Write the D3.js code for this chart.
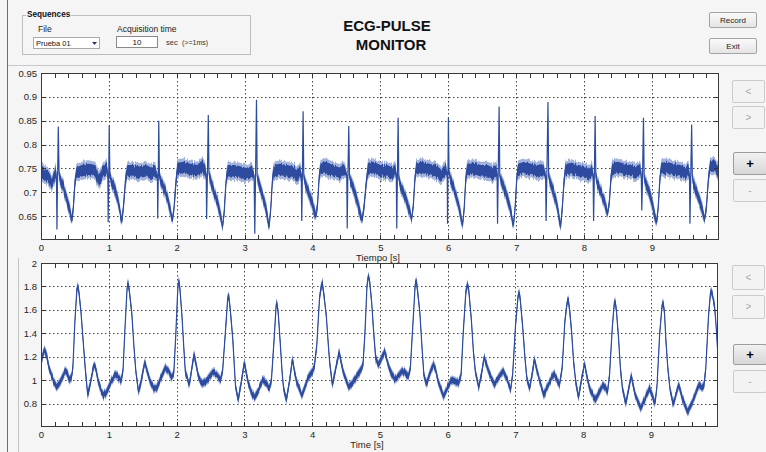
<!DOCTYPE html>
<html><head><meta charset="utf-8">
<script src="https://cdn.jsdelivr.net/npm/d3@7"></script>
<style>
body{margin:0;background:#f4f5f4;}
svg{display:block;font-family:"Liberation Sans",Arial,sans-serif;}
</style></head><body>
<svg id="c" width="766" height="452"></svg>
<script>
// ---------- data ----------
const xTickValues = [0,1,2,3,4,5,6,7,8,9];
const xTickLabels = ["0","1","2","3","4","5","6","7","8","9"];
const ecgYTicks = [0.65,0.7,0.75,0.8,0.85,0.9,0.95];
const ecgYTickLabels = ["0.65","0.7","0.75","0.8","0.85","0.9","0.95"];
const pulseYTicks = [0.8,1,1.2,1.4,1.6,1.8,2];
const pulseYTickLabels = ["0.8","1","1.2","1.4","1.6","1.8","2"];

// ECG samples: [time s, value, noise spread]
const ecgSamples = [
[0.00,0.745,.012],[0.04,0.74,.012],[0.08,0.735,.012],[0.12,0.73,.012],[0.16,0.715,.01],[0.19,0.73,.012],[0.215,0.745,.012],
[0.228,0.73,.006],[0.235,0.622,0],[0.243,0.72,.003],[0.255,0.838,0],[0.266,0.74,.004],[0.28,0.725,.01],[0.33,0.71,.01],[0.38,0.685,.01],[0.43,0.66,.01],[0.455,0.64,.006],[0.475,0.665,.008],[0.50,0.72,.01],[0.52,0.74,.012],
[0.6,0.745,.012],[0.7,0.748,.012],[0.8,0.745,.012],[0.85,0.725,.012],[0.92,0.745,.012],[0.97,0.75,.012],
[0.985,0.735,.005],[0.99,0.637,0],[0.997,0.72,.003],[1.005,0.84,0],[1.015,0.735,.004],[1.03,0.725,.01],[1.08,0.71,.01],[1.13,0.685,.01],[1.17,0.655,.01],[1.19,0.637,.006],[1.215,0.67,.008],[1.245,0.725,.01],[1.27,0.745,.012],
[1.35,0.745,.012],[1.45,0.742,.012],[1.55,0.745,.012],[1.62,0.74,.012],[1.68,0.745,.012],
[1.715,0.735,.005],[1.72,0.645,0],[1.727,0.72,.003],[1.735,0.85,0],[1.745,0.735,.004],[1.76,0.725,.01],[1.81,0.71,.01],[1.86,0.69,.01],[1.9,0.665,.01],[1.935,0.64,.006],[1.96,0.665,.008],[1.99,0.725,.01],[2.01,0.75,.012],
[2.1,0.752,.012],[2.2,0.748,.012],[2.3,0.745,.012],[2.38,0.755,.012],[2.42,0.745,.012],
[2.435,0.735,.005],[2.44,0.644,0],[2.45,0.72,.003],[2.465,0.862,0],[2.475,0.74,.004],[2.49,0.73,.01],[2.54,0.705,.01],[2.6,0.68,.01],[2.64,0.655,.01],[2.675,0.628,.006],[2.7,0.66,.008],[2.725,0.72,.01],[2.75,0.745,.012],
[2.85,0.745,.012],[2.95,0.742,.012],[3.05,0.738,.012],[3.11,0.745,.012],
[3.14,0.735,.005],[3.15,0.613,0],[3.16,0.72,.003],[3.175,0.894,0],[3.185,0.735,.004],[3.2,0.725,.01],[3.25,0.7,.01],[3.3,0.675,.01],[3.335,0.65,.01],[3.36,0.627,.006],[3.385,0.665,.008],[3.41,0.725,.01],[3.43,0.745,.012],
[3.52,0.748,.012],[3.62,0.745,.012],[3.72,0.742,.012],[3.78,0.735,.012],[3.82,0.745,.012],
[3.835,0.735,.005],[3.842,0.64,0],[3.85,0.72,.003],[3.862,0.87,0],[3.872,0.735,.004],[3.89,0.72,.01],[3.94,0.7,.01],[3.99,0.68,.01],[4.03,0.66,.01],[4.05,0.648,.006],[4.075,0.675,.008],[4.1,0.735,.01],[4.12,0.75,.012],
[4.2,0.752,.012],[4.3,0.745,.012],[4.4,0.74,.012],[4.47,0.748,.012],
[4.505,0.735,.005],[4.512,0.624,0],[4.52,0.72,.003],[4.535,0.839,0],[4.545,0.735,.004],[4.56,0.725,.01],[4.61,0.705,.01],[4.66,0.68,.01],[4.7,0.66,.01],[4.73,0.64,.006],[4.76,0.67,.008],[4.8,0.73,.01],[4.82,0.75,.012],
[4.9,0.752,.012],[5.0,0.745,.012],[5.1,0.745,.012],[5.18,0.74,.012],[5.22,0.748,.012],
[5.235,0.735,.005],[5.242,0.624,0],[5.25,0.72,.003],[5.262,0.856,0],[5.272,0.73,.004],[5.29,0.715,.01],[5.34,0.7,.01],[5.39,0.68,.01],[5.43,0.66,.01],[5.46,0.644,.006],[5.485,0.67,.008],[5.51,0.73,.01],[5.53,0.75,.012],
[5.62,0.752,.012],[5.72,0.748,.012],[5.82,0.745,.012],[5.9,0.735,.012],[5.96,0.748,.012],
[5.985,0.74,.005],[5.99,0.634,0],[5.995,0.72,.003],[6.003,0.856,0],[6.012,0.74,.004],[6.03,0.73,.01],[6.08,0.71,.01],[6.13,0.685,.01],[6.18,0.655,.01],[6.21,0.63,.006],[6.235,0.665,.008],[6.26,0.73,.01],[6.28,0.748,.012],
[6.38,0.75,.012],[6.48,0.745,.012],[6.58,0.745,.012],[6.66,0.74,.012],[6.71,0.748,.012],
[6.72,0.735,.005],[6.727,0.634,0],[6.735,0.72,.003],[6.75,0.88,0],[6.76,0.735,.004],[6.78,0.725,.01],[6.83,0.705,.01],[6.88,0.685,.01],[6.93,0.655,.01],[6.96,0.63,.006],[6.985,0.665,.008],[7.01,0.73,.01],[7.03,0.748,.012],
[7.12,0.752,.012],[7.22,0.748,.012],[7.32,0.745,.012],[7.4,0.748,.012],
[7.435,0.735,.005],[7.442,0.64,0],[7.452,0.72,.003],[7.47,0.889,0],[7.48,0.735,.004],[7.5,0.72,.01],[7.55,0.7,.01],[7.6,0.675,.01],[7.63,0.65,.01],[7.655,0.627,.006],[7.68,0.665,.008],[7.71,0.73,.01],[7.73,0.748,.012],
[7.82,0.75,.012],[7.92,0.745,.012],[8.02,0.742,.012],[8.09,0.738,.012],[8.12,0.748,.012],
[8.135,0.735,.005],[8.142,0.64,0],[8.152,0.72,.003],[8.165,0.86,0],[8.175,0.735,.004],[8.19,0.72,.01],[8.24,0.705,.01],[8.29,0.685,.01],[8.33,0.665,.01],[8.35,0.655,.006],[8.375,0.68,.008],[8.4,0.735,.01],[8.42,0.75,.012],
[8.5,0.752,.012],[8.6,0.748,.012],[8.7,0.745,.012],[8.78,0.742,.012],[8.83,0.748,.012],
[8.845,0.735,.005],[8.852,0.662,0],[8.862,0.72,.003],[8.877,0.856,0],[8.887,0.735,.004],[8.9,0.72,.01],[8.95,0.705,.01],[9.0,0.68,.01],[9.04,0.655,.01],[9.07,0.637,.006],[9.095,0.67,.008],[9.12,0.73,.01],[9.14,0.75,.012],
[9.22,0.752,.012],[9.32,0.748,.012],[9.42,0.745,.012],[9.5,0.74,.012],[9.54,0.748,.012],
[9.555,0.735,.005],[9.562,0.634,0],[9.572,0.72,.003],[9.587,0.842,0],[9.597,0.735,.004],[9.61,0.72,.01],[9.66,0.7,.01],[9.71,0.68,.01],[9.75,0.66,.01],[9.78,0.644,.006],[9.805,0.67,.008],[9.835,0.73,.01],[9.86,0.755,.012],
[9.93,0.755,.012],[9.985,0.74,.012]
];

// Pulse samples: [time s, value]
const pulseSamples = [
[0.00,1.12],[0.02,1.2],[0.05,1.26],[0.08,1.22],[0.12,1.1],[0.18,1.0],[0.23,0.94],[0.28,0.98],[0.33,1.04],[0.36,1.08],[0.39,1.06],[0.42,1.0],[0.45,1.03],[0.47,1.1],[0.5,1.5],[0.53,1.78],[0.545,1.8],[0.56,1.75],[0.59,1.58],[0.62,1.35],[0.65,1.12],[0.69,0.87],[0.72,0.95],[0.78,1.13],[0.81,1.1],[0.84,1.0],[0.88,0.92],[0.92,0.87],[0.97,0.9],[1.03,0.98],[1.10,1.05],[1.15,1.02],[1.18,0.99],[1.21,1.08],[1.24,1.45],[1.27,1.78],[1.285,1.83],[1.30,1.78],[1.34,1.57],[1.37,1.3],[1.40,1.07],[1.44,0.9],[1.48,1.0],[1.53,1.15],[1.57,1.07],[1.61,0.99],[1.66,0.93],[1.71,0.93],[1.77,1.02],[1.83,1.1],[1.88,1.08],[1.93,1.02],[1.96,1.06],[1.99,1.4],[2.02,1.8],[2.035,1.85],[2.05,1.78],[2.08,1.55],[2.11,1.25],[2.13,1.07],[2.19,0.96],[2.22,1.08],[2.26,1.22],[2.30,1.1],[2.33,1.01],[2.38,0.97],[2.45,1.0],[2.54,1.07],[2.6,1.04],[2.65,1.0],[2.68,1.08],[2.72,1.4],[2.755,1.7],[2.77,1.72],[2.79,1.62],[2.83,1.35],[2.87,0.95],[2.91,0.83],[2.96,1.0],[3.0,1.15],[3.05,1.0],[3.1,0.9],[3.15,0.85],[3.2,0.9],[3.28,1.01],[3.33,0.97],[3.37,0.93],[3.40,1.0],[3.44,1.35],[3.47,1.64],[3.48,1.66],[3.50,1.58],[3.53,1.32],[3.56,1.05],[3.58,0.93],[3.62,0.83],[3.67,1.0],[3.71,1.18],[3.74,1.08],[3.77,0.99],[3.85,0.87],[3.9,0.95],[3.95,1.03],[4.0,1.07],[4.03,1.1],[4.07,1.3],[4.11,1.7],[4.14,1.82],[4.15,1.83],[4.17,1.75],[4.21,1.55],[4.24,1.3],[4.26,1.15],[4.30,0.96],[4.35,1.1],[4.40,1.24],[4.43,1.15],[4.46,1.07],[4.54,0.94],[4.62,1.0],[4.71,1.08],[4.75,1.12],[4.78,1.4],[4.81,1.8],[4.83,1.89],[4.85,1.84],[4.88,1.66],[4.91,1.4],[4.94,1.18],[4.98,1.13],[5.02,1.18],[5.07,1.25],[5.1,1.18],[5.14,1.1],[5.22,1.0],[5.28,1.04],[5.33,1.08],[5.38,1.06],[5.42,1.03],[5.45,1.1],[5.48,1.4],[5.52,1.8],[5.535,1.86],[5.55,1.8],[5.59,1.58],[5.62,1.3],[5.65,1.04],[5.69,0.97],[5.74,1.06],[5.79,1.14],[5.83,1.07],[5.86,0.99],[5.94,0.86],[6.0,0.94],[6.06,1.0],[6.11,0.99],[6.16,0.97],[6.2,1.05],[6.23,1.4],[6.27,1.76],[6.295,1.82],[6.31,1.78],[6.35,1.52],[6.38,1.25],[6.41,1.07],[6.46,0.94],[6.5,1.05],[6.54,1.2],[6.58,1.12],[6.61,1.07],[6.69,0.96],[6.75,1.02],[6.82,1.08],[6.88,1.0],[6.93,0.92],[6.96,1.05],[7.0,1.45],[7.04,1.72],[7.055,1.75],[7.07,1.7],[7.11,1.44],[7.14,1.2],[7.17,1.01],[7.21,0.93],[7.25,1.06],[7.28,1.18],[7.32,1.08],[7.36,0.99],[7.42,0.87],[7.5,0.98],[7.57,1.06],[7.62,1.0],[7.65,0.96],[7.69,1.1],[7.73,1.5],[7.765,1.67],[7.78,1.69],[7.80,1.6],[7.83,1.41],[7.86,1.15],[7.89,0.99],[7.93,0.85],[7.98,1.02],[8.02,1.14],[8.06,1.02],[8.10,0.92],[8.18,0.83],[8.24,0.9],[8.29,0.96],[8.33,0.93],[8.36,0.9],[8.39,1.05],[8.43,1.45],[8.46,1.66],[8.47,1.68],[8.49,1.6],[8.52,1.38],[8.55,1.1],[8.58,0.93],[8.63,0.8],[8.67,0.92],[8.71,1.04],[8.74,0.95],[8.77,0.87],[8.85,0.76],[8.92,0.85],[8.98,0.93],[9.02,0.87],[9.06,0.8],[9.09,0.95],[9.13,1.4],[9.165,1.64],[9.18,1.66],[9.20,1.58],[9.22,1.35],[9.25,1.1],[9.28,0.93],[9.33,0.79],[9.37,0.88],[9.41,0.96],[9.44,0.9],[9.46,0.85],[9.54,0.73],[9.62,0.82],[9.68,0.92],[9.71,0.96],[9.75,0.94],[9.78,0.94],[9.81,1.1],[9.85,1.55],[9.88,1.75],[9.89,1.76],[9.91,1.72],[9.94,1.63],[9.97,1.4],[9.99,1.2]
];
const pulseSpread = 0.026;

// ---------- drawing ----------
const svg = d3.select("#c");
const DARK = "#2d4c9f", LIGHT = "#a3b3db";

const defs = svg.append("defs");
const g1 = defs.append("linearGradient").attr("id","btn").attr("x1",0).attr("y1",0).attr("x2",0).attr("y2",1);
g1.append("stop").attr("offset","0%").attr("stop-color","#fafafa");
g1.append("stop").attr("offset","100%").attr("stop-color","#e4e4e4");
const g2 = defs.append("linearGradient").attr("id","btnOn").attr("x1",0).attr("y1",0).attr("x2",0).attr("y2",1);
g2.append("stop").attr("offset","0%").attr("stop-color","#f2f2f2");
g2.append("stop").attr("offset","100%").attr("stop-color","#d6d6d6");

// rough-edge filter (vertical jitter of the noise band edges)
function roughFilter(id, scale, seed){
  const f = defs.append("filter").attr("id",id).attr("x","-2%").attr("y","-10%").attr("width","104%").attr("height","120%");
  f.append("feTurbulence").attr("type","fractalNoise").attr("baseFrequency","0.9 0.03").attr("numOctaves",1).attr("seed",seed).attr("result","t");
  f.append("feColorMatrix").attr("in","t").attr("type","matrix")
    .attr("values","0 0 0 0 0.5  0 1 0 0 0  0 0 0 0 0  0 0 0 0 1").attr("result","m");
  f.append("feDisplacementMap").attr("in","SourceGraphic").attr("in2","m").attr("scale",scale)
    .attr("xChannelSelector","R").attr("yChannelSelector","G");
}
roughFilter("rough1",7,4);
roughFilter("rough2",4,9);

// frame lines
svg.append("line").attr("x1",7.5).attr("x2",7.5).attr("y1",0).attr("y2",452).attr("stroke","#6e6e6e");
svg.append("line").attr("x1",8).attr("x2",766).attr("y1",65.5).attr("y2",65.5).attr("stroke","#c8c8c8");
svg.append("line").attr("x1",18.5).attr("x2",18.5).attr("y1",258).attr("y2",452).attr("stroke","#c4c4c4");

// Sequences panel
svg.append("rect").attr("x",22.5).attr("y",15.5).attr("width",228).attr("height",39).attr("fill","none").attr("stroke","#bdbdbd");
svg.append("rect").attr("x",26).attr("y",8).attr("width",45).attr("height",12).attr("fill","#f4f5f4");
svg.append("text").attr("x",27).attr("y",16.5).attr("font-size",8.2).attr("font-weight","bold").attr("fill","#111").text("Sequences");
svg.append("text").attr("x",38).attr("y",32).attr("font-size",8.5).attr("fill","#222").text("File");
svg.append("rect").attr("x",33.5).attr("y",37.5).attr("width",66).attr("height",11).attr("fill","#fff").attr("stroke","#a9a9a9");
svg.append("text").attr("x",36).attr("y",46).attr("font-size",7.5).attr("fill","#111").text("Prueba 01");
svg.append("path").attr("d","M92,42 L97,42 L94.5,45 Z").attr("fill","#333366");
svg.append("text").attr("x",117).attr("y",32).attr("font-size",8.5).attr("fill","#222").text("Acquisition time");
svg.append("rect").attr("x",116.5).attr("y",36.5).attr("width",41).attr("height",11).attr("fill","#fff").attr("stroke","#8a8a8a");
svg.append("text").attr("x",137).attr("y",45).attr("text-anchor","middle").attr("font-size",8).attr("fill","#111").text("10");
svg.append("text").attr("x",166).attr("y",45).attr("font-size",7.5).attr("fill","#333").text("sec");
svg.append("text").attr("x",182).attr("y",45).attr("font-size",7).attr("fill","#333").text("(>=1ms)");

// title
svg.append("text").attr("x",387).attr("y",31).attr("text-anchor","middle").attr("font-size",15).attr("font-weight","bold").attr("fill","#111").text("ECG-PULSE");
svg.append("text").attr("x",391).attr("y",50).attr("text-anchor","middle").attr("font-size",15).attr("font-weight","bold").attr("fill","#111").text("MONITOR");

function button(x,y,w,h,label,opts){
  opts = opts||{};
  svg.append("rect").attr("x",x+0.5).attr("y",y+0.5).attr("width",w).attr("height",h).attr("rx",1.5)
    .attr("fill",opts.fill||"url(#btn)").attr("stroke",opts.stroke||"#a4a4a4");
  svg.append("text").attr("x",x+w/2+0.5).attr("y",y+h/2+(opts.dy||3.2)).attr("text-anchor","middle")
    .attr("font-size",opts.size||8).attr("font-weight",opts.bold?"bold":"normal").attr("fill",opts.color||"#222").text(label);
}
button(709,12,47,15,"Record");
button(709,38,47,15,"Exit");

const off = {fill:"#f3f3f3",stroke:"#cbcbcb",color:"#a8a8a8",size:10,dy:3.5};
button(732,80,32,22,"<",off);
button(732,106,32,22,">",off);
button(733,152,33,22,"+",{fill:"url(#btnOn)",stroke:"#9c9c9c",color:"#000",size:13,bold:true,dy:4.5});
button(733,179,33,22,"-",off);
button(732,265,32,24,"<",off);
button(732,295,32,23,">",off);
button(733,344,33,20,"+",{fill:"url(#btnOn)",stroke:"#9c9c9c",color:"#000",size:13,bold:true,dy:4.5});
button(733,370,33,22,"-",off);

// clipped y-label fragment of the lower axes
defs.append("clipPath").attr("id","ylabClip").append("rect").attr("x",18).attr("y",300).attr("width",5).attr("height",80);
svg.append("text").attr("clip-path","url(#ylabClip)").attr("transform","translate(21,337) rotate(-90)")
  .attr("text-anchor","middle").attr("font-size",9.5).attr("fill","#555").text("Pulso [V]");

function drawPlot(cfg){
  const x = d3.scaleLinear().domain([0,9.99]).range([cfg.left,cfg.right]);
  const y = d3.scaleLinear().domain(cfg.yDomain).range([cfg.bottom,cfg.top]);
  const g = svg.append("g");
  g.append("rect").attr("x",cfg.left).attr("y",cfg.top).attr("width",cfg.right-cfg.left).attr("height",cfg.bottom-cfg.top).attr("fill","#fff");
  g.selectAll(".gx").data(xTickValues.filter(v=>v>0)).enter().append("line")
    .attr("x1",d=>Math.round(x(d))+0.5).attr("x2",d=>Math.round(x(d))+0.5).attr("y1",cfg.top).attr("y2",cfg.bottom)
    .attr("stroke","#333").attr("stroke-dasharray","1.5,2.5").attr("stroke-width",0.9);
  g.selectAll(".gy").data(cfg.yTicks.filter(v=>v<cfg.yDomain[1])).enter().append("line")
    .attr("y1",d=>Math.round(y(d))+0.5).attr("y2",d=>Math.round(y(d))+0.5).attr("x1",cfg.left).attr("x2",cfg.right)
    .attr("stroke","#333").attr("stroke-dasharray","1.5,2.5").attr("stroke-width",0.9);
  const cid = "clip"+cfg.id;
  defs.append("clipPath").attr("id",cid).append("rect").attr("x",cfg.left).attr("y",cfg.top).attr("width",cfg.right-cfg.left).attr("height",cfg.bottom-cfg.top);
  const pg = g.append("g").attr("clip-path",`url(#${cid})`);
  const sp = cfg.spread;
  const areaOuter = d3.area().x(d=>x(d[0])).y0(d=>y(d[1]-sp(d)*1.6)).y1(d=>y(d[1]+sp(d)*1.6));
  const areaInner = d3.area().x(d=>x(d[0])).y0(d=>y(d[1]-sp(d))).y1(d=>y(d[1]+sp(d)));
  const line = d3.line().x(d=>x(d[0])).y(d=>y(d[1]));
  const band = pg.append("g").attr("filter",`url(#${cfg.filter})`);
  band.append("path").attr("d",areaOuter(cfg.data)).attr("fill",LIGHT);
  band.append("path").attr("d",areaInner(cfg.data)).attr("fill",DARK);
  pg.append("path").attr("d",line(cfg.data)).attr("fill","none").attr("stroke",DARK).attr("stroke-width",1.2);
  const minor = d3.range(0,50).map(i=>i*0.2).filter(v=>Math.abs(v-Math.round(v))>0.01);
  const allX = xTickValues.concat(minor).filter(v=>v>0);
  g.selectAll(".tb").data(allX).enter().append("line")
    .attr("x1",d=>Math.round(x(d))+0.5).attr("x2",d=>Math.round(x(d))+0.5).attr("y1",cfg.bottom).attr("y2",cfg.bottom-5).attr("stroke","#333");
  g.selectAll(".tt").data(allX).enter().append("line")
    .attr("x1",d=>Math.round(x(d))+0.5).attr("x2",d=>Math.round(x(d))+0.5).attr("y1",cfg.top).attr("y2",cfg.top+5).attr("stroke","#333");
  g.selectAll(".tl").data(cfg.yTicks).enter().append("line")
    .attr("y1",d=>Math.round(y(d))+0.5).attr("y2",d=>Math.round(y(d))+0.5).attr("x1",cfg.left).attr("x2",cfg.left+5).attr("stroke","#333");
  g.selectAll(".tr").data(cfg.yTicks).enter().append("line")
    .attr("y1",d=>Math.round(y(d))+0.5).attr("y2",d=>Math.round(y(d))+0.5).attr("x1",cfg.right).attr("x2",cfg.right-5).attr("stroke","#333");
  g.append("rect").attr("x",cfg.left+0.5).attr("y",cfg.top+0.5).attr("width",cfg.right-cfg.left-1).attr("height",cfg.bottom-cfg.top-1)
    .attr("fill","none").attr("stroke","#3a3a3a");
  const ax = d3.axisBottom(x).tickValues(xTickValues).tickFormat((d,i)=>xTickLabels[i]).tickSize(0).tickPadding(cfg.xPad);
  const axg = g.append("g").attr("transform",`translate(0,${cfg.bottom})`).call(ax);
  axg.select(".domain").remove();
  axg.selectAll("text").attr("font-size",9.5).attr("fill","#262626").attr("font-family","Liberation Sans, Arial, sans-serif");
  const ay = d3.axisLeft(y).tickValues(cfg.yTicks).tickFormat((d,i)=>cfg.yLabels[i]).tickSize(0).tickPadding(4);
  const ayg = g.append("g").attr("transform",`translate(${cfg.left},0)`).call(ay);
  ayg.select(".domain").remove();
  ayg.selectAll("text").attr("font-size",9.5).attr("fill","#262626").attr("font-family","Liberation Sans, Arial, sans-serif");
  svg.append("text").attr("x",cfg.xlabelX).attr("y",cfg.xlabelY).attr("text-anchor","middle").attr("font-size",9.5).attr("fill","#262626").text(cfg.xlabel);
}

drawPlot({id:1,left:41,right:719,top:73,bottom:240,yDomain:[0.6,0.95],yTicks:ecgYTicks,yLabels:ecgYTickLabels,
  data:ecgSamples,spread:d=>d[2],xPad:4,xlabel:"Tiempo [s]",xlabelX:378,xlabelY:261,filter:"rough1"});
drawPlot({id:2,left:41,right:718,top:263,bottom:427,yDomain:[0.6,2],yTicks:pulseYTicks,yLabels:pulseYTickLabels,
  data:pulseSamples,spread:()=>pulseSpread,xPad:4.5,xlabel:"Time [s]",xlabelX:367,xlabelY:448,filter:"rough2"});
</script>
</body></html>
